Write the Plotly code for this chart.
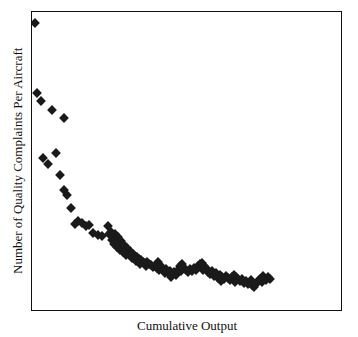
import plotly.graph_objects as go

# Cumulative output (arbitrary units) and complaints per aircraft (arbitrary units)
cumulative_output = [
    3, 5, 9, 20, 32, 11, 16, 24, 28, 32, 35, 39, 43, 46, 50, 54, 57, 61, 66, 70, 76,
    77, 79, 81, 83, 80, 84, 86, 82, 87, 89, 85, 90, 92, 88, 93, 95, 91, 96, 98, 94,
    99, 101, 103, 100, 105, 107, 104, 109, 111, 108, 113, 115, 117, 114, 119, 121, 123,
    126, 125, 128, 130, 127, 132, 134, 136, 133, 138, 140, 142, 139, 144, 146, 148, 150,
    152, 149, 154, 156, 158, 160, 162, 164, 166, 168, 170, 172, 174, 171, 176, 178, 180,
    182, 184, 186, 188, 190, 192, 189, 194, 196, 198, 200, 202, 204, 206, 203, 208, 210,
    212, 214, 216, 218, 220, 222, 219, 224, 226, 228, 230, 232, 234, 236, 238, 231,
]
complaints = [
    28.7, 21.7, 20.9, 20.0, 19.2, 15.2, 14.6, 15.7, 13.5, 12.0, 11.5, 10.2, 8.6, 8.9, 8.7, 8.4, 8.5, 7.7, 7.5, 7.4, 8.4,
    7.6, 7.8, 7.4, 7.6, 7.0, 7.1, 7.3, 6.6, 6.7, 6.9, 6.3, 6.4, 6.5, 6.0, 6.1, 6.2, 5.8, 5.8, 5.9, 5.5,
    5.5, 5.6, 5.4, 5.2, 5.3, 5.1, 4.9, 5.0, 4.8, 4.6, 4.7, 4.8, 4.6, 4.4, 4.5, 4.3, 4.4,
    4.8, 4.2, 4.5, 4.2, 4.0, 4.0, 4.1, 3.8, 3.7, 3.9, 3.6, 3.8, 3.3, 3.5, 4.0, 4.4, 4.6,
    4.2, 3.9, 4.0, 3.8, 4.1, 3.9, 4.2, 4.0, 4.4, 4.6, 4.7, 4.4, 4.2, 4.0, 3.8, 3.6, 3.9,
    3.4, 3.7, 3.2, 3.5, 3.3, 3.1, 2.9, 3.4, 3.2, 3.0, 3.3, 3.5, 3.3, 3.1, 2.8, 2.9, 3.1,
    2.7, 2.9, 2.6, 2.8, 2.5, 2.3, 3.0, 2.6, 2.9, 3.1, 2.8, 3.2, 3.0, 3.3, 3.1, 3.4,
]

x_title = "Cumulative Output"
y_title = "Number of Quality Complaints Per Aircraft"

fig = go.Figure(
    go.Scatter(
        x=cumulative_output,
        y=complaints,
        mode="markers",
        marker=dict(symbol="diamond", size=7.5, color="#1a1a1a", line=dict(width=0)),
        hoverinfo="skip",
    )
)

font = dict(family="Liberation Serif, Times New Roman, serif", size=13, color="#111")

fig.update_layout(
    width=358,
    height=337,
    margin=dict(l=32, r=17, t=12, b=27),
    paper_bgcolor="white",
    plot_bgcolor="white",
    showlegend=False,
    font=font,
)
fig.update_xaxes(
    range=[0, 309], showgrid=False, zeroline=False, showticklabels=False, ticks="",
    showline=True, mirror=True, linecolor="#111", linewidth=1,
)
fig.update_yaxes(
    range=[0, 29.8], showgrid=False, zeroline=False, showticklabels=False, ticks="",
    showline=True, mirror=True, linecolor="#111", linewidth=1,
)
fig.add_annotation(text=x_title, xref="paper", yref="paper", x=0.5, y=0, yshift=-15,
                   showarrow=False, font=font, yanchor="middle")
fig.add_annotation(text=y_title, xref="paper", yref="paper", x=0, y=0.5, xshift=-15,
                   textangle=-90, showarrow=False, font=font, xanchor="center")

fig.write_html("out.html")
